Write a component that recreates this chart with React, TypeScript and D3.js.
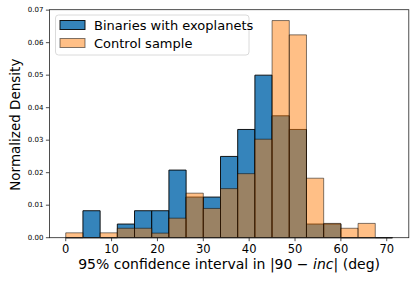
import React from 'react';
import * as d3 from 'd3';

// histogram bin edges (deg), shared by both samples
const binEdges = [0, 3.75, 7.5, 11.25, 15, 18.75, 22.5, 26.25, 30, 33.75, 37.5, 41.25, 45, 48.75, 52.5, 56.25, 60, 63.75, 67.5, 71.25];

// normalized density per bin
const binariesDensity = [0, 0.0083, 0, 0.0042, 0.0083, 0.0083, 0.0208, 0.0125, 0.0125, 0.025, 0.0333, 0.05, 0.0375, 0.0333, 0.0042, 0.0042, 0, 0, 0];
const controlDensity = [0.0015, 0, 0.0015, 0.0029, 0.0029, 0.0014, 0.006, 0.0137, 0.009, 0.0151, 0.0197, 0.0303, 0.0668, 0.0624, 0.0183, 0.0044, 0.0029, 0.0044, 0];

const xTicks = [0, 10, 20, 30, 40, 50, 60, 70];
const yTicks = [0, 0.01, 0.02, 0.03, 0.04, 0.05, 0.06, 0.07];
const seriesNames = ['Binaries with exoplanets', 'Control sample'];

const W = 416;
const H = 282;
const margin = { left: 49.4, right: W - 408.8, top: 9.7, bottom: H - 237.7 };
const FONT = '"DejaVu Sans", sans-serif';

export default function App() {
  const lo = binEdges[0];
  const hi = binEdges[binEdges.length - 1];
  const pad = (hi - lo) * 0.05;
  const yMax = d3.max([...binariesDensity, ...controlDensity]) as number * 1.05;

  const x = d3.scaleLinear().domain([lo - pad, hi + pad]).range([margin.left, W - margin.right]);
  const y = d3.scaleLinear().domain([0, yMax]).range([H - margin.bottom, margin.top]);

  // draw each bar as an outline path so empty bins still leave a baseline stroke
  const barPath = (i: number, v: number) => {
    const p = d3.path();
    const x0 = x(binEdges[i]);
    const x1 = x(binEdges[i + 1]);
    p.moveTo(x0, y(0));
    p.lineTo(x0, y(v));
    p.lineTo(x1, y(v));
    p.lineTo(x1, y(0));
    p.closePath();
    return p.toString();
  };

  const x0 = x.range()[0];
  const x1 = x.range()[1];
  const yb = y.range()[0];
  const yt = y.range()[1];

  return (
    <svg width={W} height={H} style={{ position: 'absolute', left: 0, top: 0, fontFamily: FONT }}>
      <rect width={W} height={H} fill="#fff" />

      {/* binaries first, control sample drawn over it */}
      <g>
        {binariesDensity.map((v, i) => (
          <path key={i} d={barPath(i, v)} fill="#1f77b4" fillOpacity={0.9}
            stroke="#000" strokeOpacity={0.9} strokeWidth={1} />
        ))}
      </g>
      <g>
        {controlDensity.map((v, i) => (
          <path key={i} d={barPath(i, v)} fill="#ff7f0e" fillOpacity={0.5}
            stroke="#000" strokeOpacity={0.5} strokeWidth={1} />
        ))}
      </g>

      {/* frame */}
      <rect x={x0} y={yt} width={x1 - x0} height={yb - yt} fill="none" stroke="#222" strokeWidth={0.8} />

      {/* x axis */}
      <g>
        {xTicks.map(t => (
          <g key={t} transform={`translate(${x(t)},${yb})`}>
            <line y2={3.5} stroke="#222" strokeWidth={0.8} />
            <text y={15.5} textAnchor="middle" fontSize={11.5} fill="#000">{t}</text>
          </g>
        ))}
        <text x={(x0 + x1) / 2} y={269} textAnchor="middle" fontSize={14} fill="#000">
          95% confidence interval in |90 − <tspan fontStyle="italic">inc</tspan>| (deg)
        </text>
      </g>

      {/* y axis */}
      <g>
        {yTicks.map(t => (
          <g key={t} transform={`translate(${x0},${y(t)})`}>
            <line x2={-3.5} stroke="#222" strokeWidth={0.8} />
            <text x={-6} dy="0.32em" textAnchor="end" fontSize={7} fill="#000">{d3.format('.2f')(t)}</text>
          </g>
        ))}
        <text transform={`translate(19.5,${(yb + yt) / 2 + 1}) rotate(-90)`} textAnchor="middle"
          fontSize={13.5} fill="#000">Normalized Density</text>
      </g>

      {/* legend */}
      <g>
        <rect x={55.5} y={15} width={193.5} height={40} rx={3} fill="#fff" fillOpacity={0.8}
          stroke="#d0d0d0" strokeWidth={0.8} />
        {seriesNames.map((name, i) => (
          <g key={name} transform={`translate(60,${25 + i * 18})`}>
            <rect x={0} y={-4.5} width={25} height={9}
              fill={i === 0 ? '#1f77b4' : '#ff7f0e'} fillOpacity={i === 0 ? 0.9 : 0.5}
              stroke="#000" strokeOpacity={i === 0 ? 0.9 : 0.5} strokeWidth={1} />
            <text x={34} dy="0.36em" fontSize={13} fill="#000">{name}</text>
          </g>
        ))}
      </g>
    </svg>
  );
}
